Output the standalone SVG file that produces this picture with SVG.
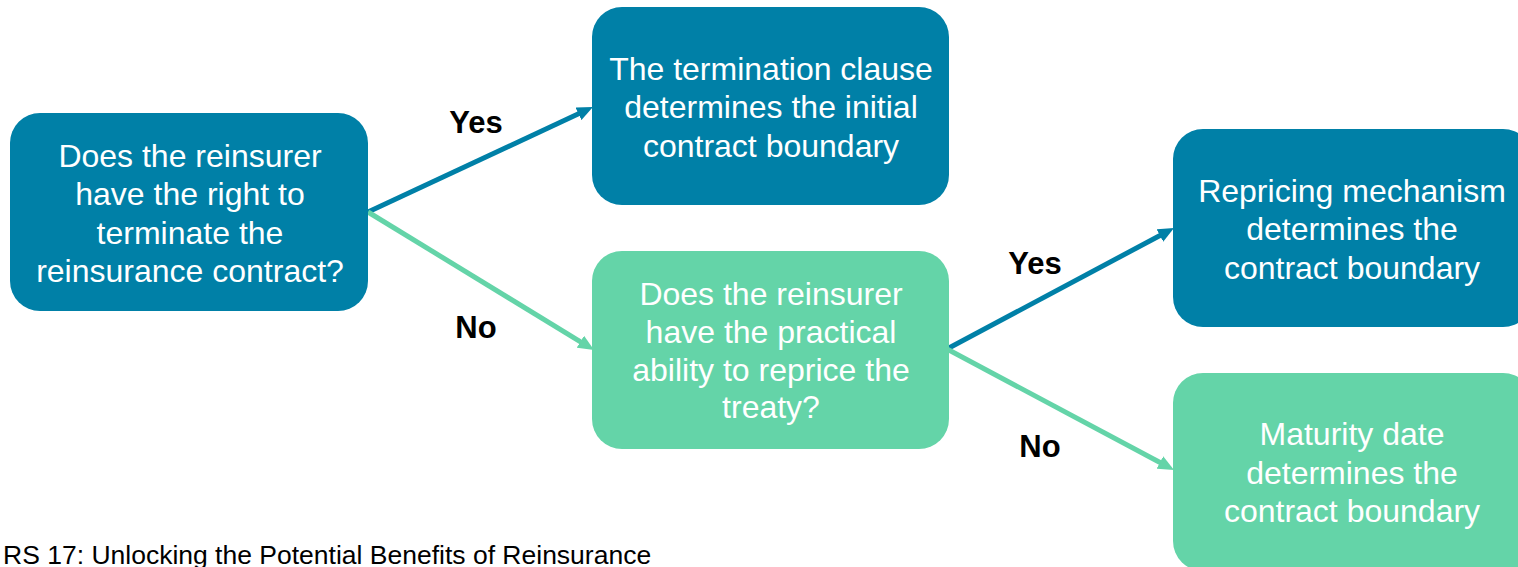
<svg xmlns="http://www.w3.org/2000/svg" width="1518" height="567" viewBox="0 0 1518 567">
<style>
.bl{fill:#0080A7}
.gr{fill:#64D4A8}
.t{font-family:"Liberation Sans",Arial,sans-serif;font-size:32px;fill:#fff;text-anchor:middle}
.lb{font-family:"Liberation Sans",Arial,sans-serif;font-size:31px;font-weight:bold;fill:#000;text-anchor:middle}
.ft{font-family:"Liberation Sans",Arial,sans-serif;font-size:26.5px;fill:#000}
.ab{stroke:#0080A7;stroke-width:5;fill:none}
.ag{stroke:#64D4A8;stroke-width:5;fill:none}
</style>
<defs>
<marker id="mb" markerUnits="userSpaceOnUse" markerWidth="16" markerHeight="14" refX="6" refY="7" orient="auto"><path d="M0,0 L16,7 L0,14 z" fill="#0080A7"/></marker>
<marker id="mg" markerUnits="userSpaceOnUse" markerWidth="16" markerHeight="14" refX="6" refY="7" orient="auto"><path d="M0,0 L16,7 L0,14 z" fill="#64D4A8"/></marker>
</defs>
<rect width="1518" height="567" fill="#fff"/>
<g id="connectors">
<line class="ab" x1="368" y1="212" x2="583.9" y2="111.2" marker-end="url(#mb)"/>
<line class="ag" x1="368" y1="212" x2="585.5" y2="344.8" marker-end="url(#mg)"/>
<line class="ab" x1="947" y1="349" x2="1165.2" y2="232.7" marker-end="url(#mb)"/>
<line class="ag" x1="947" y1="349" x2="1165.2" y2="465.3" marker-end="url(#mg)"/>
<text class="lb" x="476" y="133">Yes</text>
<text class="lb" x="476" y="338">No</text>
<text class="lb" x="1035" y="274">Yes</text>
<text class="lb" x="1040" y="457">No</text>
</g>
<g id="q1">
<rect class="bl" x="10" y="113" width="358" height="198" rx="30"/>
<text class="t" x="190" y="167">Does the reinsurer</text>
<text class="t" x="190" y="205">have the right to</text>
<text class="t" x="190" y="243.5">terminate the</text>
<text class="t" x="190" y="282">reinsurance contract?</text>
</g>
<g id="termination">
<rect class="bl" x="592" y="7" width="357" height="198" rx="30"/>
<text class="t" x="771" y="79.5">The termination clause</text>
<text class="t" x="771" y="118">determines the initial</text>
<text class="t" x="771" y="156.5">contract boundary</text>
</g>
<g id="q2">
<rect class="gr" x="592" y="251" width="357" height="198" rx="30"/>
<text class="t" x="771" y="304.5">Does the reinsurer</text>
<text class="t" x="771" y="342.5">have the practical</text>
<text class="t" x="771" y="380.5">ability to reprice the</text>
<text class="t" x="771" y="418">treaty?</text>
</g>
<g id="repricing">
<rect class="bl" x="1173" y="129" width="360" height="198" rx="30"/>
<text class="t" x="1352" y="202">Repricing mechanism</text>
<text class="t" x="1352" y="240">determines the</text>
<text class="t" x="1352" y="278.5">contract boundary</text>
</g>
<g id="maturity">
<rect class="gr" x="1173" y="373" width="360" height="198" rx="30"/>
<text class="t" x="1352" y="445">Maturity date</text>
<text class="t" x="1352" y="483.5">determines the</text>
<text class="t" x="1352" y="522">contract boundary</text>
</g>
<text class="ft" x="3" y="564">RS 17: Unlocking the Potential Benefits of Reinsurance</text>
</svg>
